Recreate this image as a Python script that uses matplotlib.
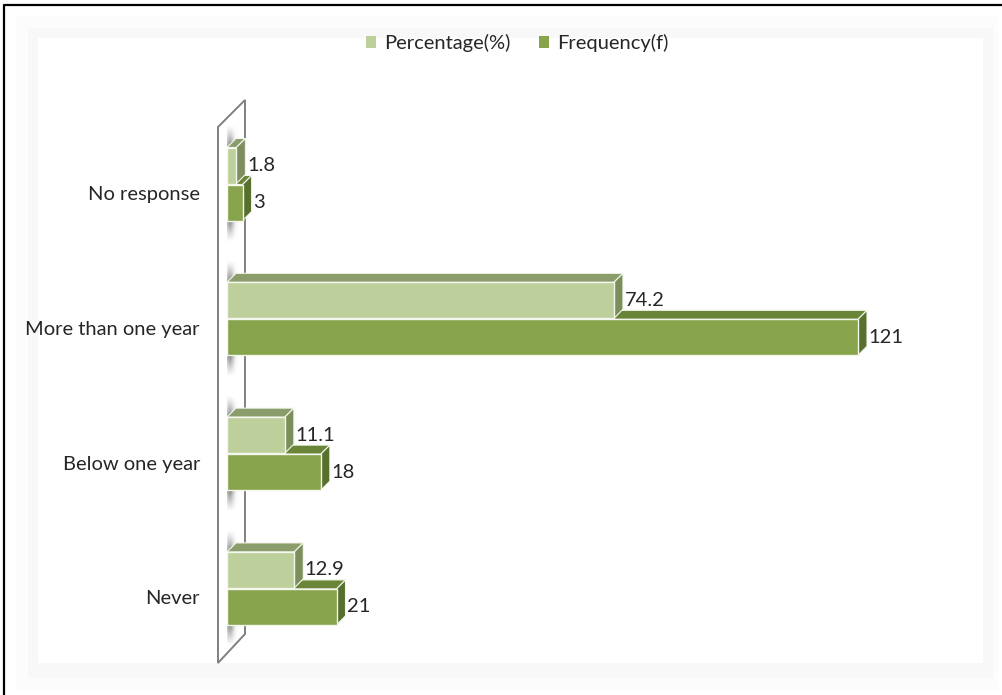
import numpy as np
import matplotlib
matplotlib.use("Agg")
import matplotlib.pyplot as plt
from matplotlib.patches import Rectangle, Polygon, Patch

# data (top to bottom)
categories = ["No response", "More than one year", "Below one year", "Never"]
percentage = [1.8, 74.2, 11.1, 12.9]
frequency = [3, 121, 18, 21]
series_names = ["Percentage(%)", "Frequency(f)"]
pct_labels = ["1.8", "74.2", "11.1", "12.9"]
freq_labels = ["3", "121", "18", "21"]

# colours: front, top, side
pct_cols = ("#bdcf9a", "#8c9d6c", "#7c8e5b")
freq_cols = ("#87a34b", "#6a8438", "#57702e")
text_col = "#262626"

plt.rcParams['font.family'] = ['Lato', 'DejaVu Sans']
fs = 14.5

W, H = 1003, 695
fig = plt.figure(figsize=(W / 100, H / 100), dpi=100)

# background axes in pixel coordinates for the frame, panel and wall
bg = fig.add_axes([0, 0, 1, 1])
bg.set_xlim(0, W)
bg.set_ylim(H, 0)
bg.axis("off")
bg.add_patch(Rectangle((16, 16), 982, 674, facecolor="#fcfcfc", edgecolor="none"))
bg.add_patch(Rectangle((28, 28), 965, 650, facecolor="#f8f8f8", edgecolor="none"))
bg.add_patch(Rectangle((38, 38), 945, 625, facecolor="white", edgecolor="none"))
bg.plot([4, 4, W], [H, 5, 5], color="black", lw=1.6, solid_capstyle="butt")

# slanted back wall
wall = Polygon([(218, 127), (245, 100), (245, 634), (218, 663)], closed=True,
               facecolor="white", edgecolor="#808080", lw=1.4)
bg.add_patch(wall)

# main data axes
px_per_x = 5.215
px_per_y = 134.8
left_px, top_px, bottom_px = 227, 90, 670
xmax = 145
ax = fig.add_axes([left_px / W, (H - bottom_px) / H, xmax * px_per_x / W, (bottom_px - top_px) / H])
ax.patch.set_alpha(0)
y = np.arange(len(categories))
y0_center_px = 184
ylims = ((bottom_px - y0_center_px) / px_per_y, (top_px - y0_center_px) / px_per_y)
for s in ax.spines.values():
    s.set_visible(False)
ax.set_xticks([])

bar_h = 36 / px_per_y
off = 18.5 / px_per_y
dx = 9 / px_per_x
dy = 9 / px_per_y

# soft shadows on the wall above/below each group
for yi in y:
    for y_edge, direction in [(yi - off - bar_h / 2, -1), (yi + off + bar_h / 2, 1)]:
        n = 40
        grad = np.linspace(1, 0, n) ** 1.2
        xs = np.linspace(0, 1, 16)
        prof = np.exp(-((xs - 0.3) / 0.3) ** 2)
        alpha = np.outer(grad if direction == 1 else grad[::-1], prof) * 0.85
        img = np.zeros((n, 16, 4))
        img[..., :3] = 0.45
        img[..., 3] = alpha
        ext_y = (y_edge, y_edge + direction * 0.16)
        ax.imshow(img, extent=(-0.3, 2.4, max(ext_y), min(ext_y)), aspect="auto",
                  interpolation="bilinear", zorder=1)
ax.set_xlim(0, xmax)
ax.set_ylim(*ylims)


def bars3d(vals, yc, cols, labels):
    front, top, side = cols
    ax.barh(yc, vals, height=bar_h, color=front, edgecolor="#f4f7ee", lw=1, zorder=3)
    for v, yy, lab in zip(vals, yc, labels):
        t = yy - bar_h / 2
        b = yy + bar_h / 2
        ax.add_patch(Polygon([(0, t), (dx, t - dy), (v + dx, t - dy), (v, t)],
                             facecolor=top, edgecolor="#f4f7ee", lw=0.8, zorder=2))
        ax.add_patch(Polygon([(v, t), (v + dx, t - dy), (v + dx, b - dy), (v, b)],
                             facecolor=side, edgecolor="#f4f7ee", lw=0.8, zorder=2))
        ax.text(v + dx + 1.5 / px_per_x, yy, lab, ha="left", va="center",
                fontsize=fs, color=text_col, zorder=4)


# frequency drawn first so the percentage bar's lower edge sits over it
bars3d(frequency, y + off, freq_cols, freq_labels)
bars3d(percentage, y - off, pct_cols, pct_labels)

ax.set_yticks(y + 9 / px_per_y, categories)
ax.tick_params(axis="y", length=0, pad=19.5, labelsize=fs, labelcolor=text_col)

handles = [Patch(facecolor=pct_cols[0]), Patch(facecolor=freq_cols[0])]
fig.legend(handles, series_names, loc="center", bbox_to_anchor=(517 / W, 1 - 43 / H),
           ncol=2, frameon=False, handlelength=0.5, handleheight=0.5, handletextpad=0.4,
           columnspacing=1.4, fontsize=fs, labelcolor=text_col)

fig.savefig("out.png", dpi=100)
